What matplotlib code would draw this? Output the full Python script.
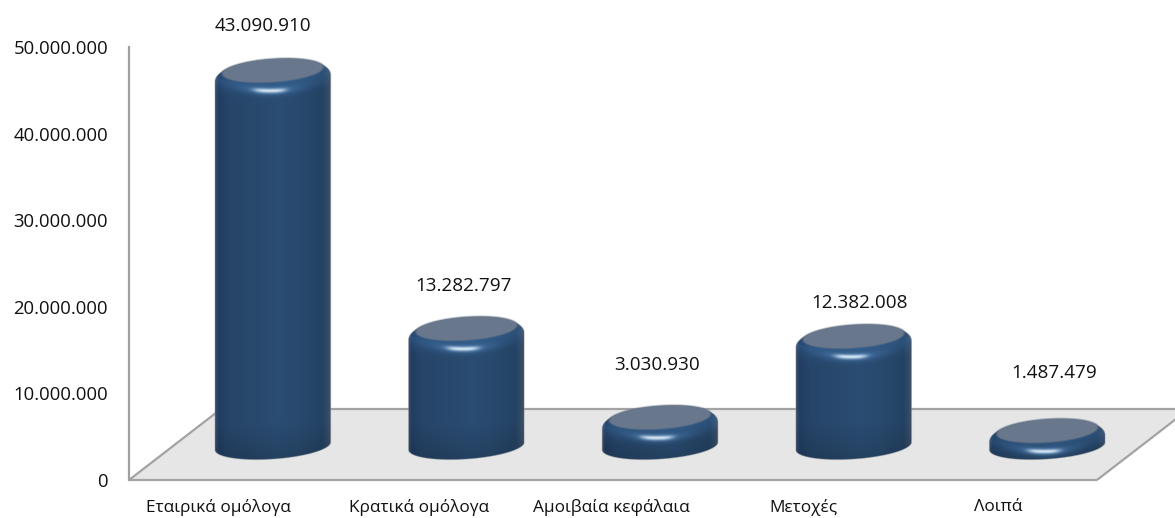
import numpy as np
import matplotlib
matplotlib.use("Agg")
import matplotlib.pyplot as plt
from matplotlib.patches import Polygon, PathPatch
from matplotlib.path import Path
from matplotlib.transforms import ScaledTranslation

categories = ["Εταιρικά ομόλογα", "Κρατικά ομόλογα", "Αμοιβαία κεφάλαια", "Μετοχές", "Λοιπά"]
values = [43090910, 13282797, 3030930, 12382008, 1487479]
value_labels = ["43.090.910", "13.282.797", "3.030.930", "12.382.008", "1.487.479"]
y_ticks = [0, 10000000, 20000000, 30000000, 40000000, 50000000]
y_tick_labels = ["0", "10.000.000", "20.000.000", "30.000.000", "40.000.000", "50.000.000"]

# layout / style
W, H = 1175, 518
AX_L, AX_R, AX_T, AX_B = 129, 1097, 47, 480
label_gap_px = [35, 33, 43, 24, 49]
label_dx_px = [-10, -3, -3, 6, 7]
cat_dx_px = [-7, 0, -2, -3, -2]
FONT = "Open Sans"
FS = 13.3

fig = plt.figure(figsize=(W / 100, H / 100), dpi=100, facecolor="white")
ax = fig.add_axes([AX_L / W, 1 - AX_B / H, (AX_R - AX_L) / W, (AX_B - AX_T) / H])
ax.set_xlim(-0.5, 4.5)
ax.set_ylim(0, 50000000)
ax.patch.set_alpha(0)

sx = (AX_R - AX_L) / 5            # px per category
sy = (AX_B - AX_T) / 50000000     # px per value unit

# axes
for s in ["top", "right", "bottom"]:
    ax.spines[s].set_visible(False)
ax.spines["left"].set_color("#a0a0a0")
ax.spines["left"].set_linewidth(1.6)
ax.set_yticks(y_ticks, y_tick_labels, fontfamily=FONT, fontsize=FS, color="#111111")
ax.set_xticks(range(len(categories)), categories, fontfamily=FONT, fontsize=12.4, color="#111111")
ax.tick_params(axis="y", length=0, pad=15)
ax.tick_params(axis="x", length=0, pad=14)
for lab, d in zip(ax.get_xticklabels(), cat_dx_px):
    lab.set_transform(lab.get_transform() + ScaledTranslation(d / 100, 0, fig.dpi_scale_trans))

# floor
back_y = 71 / sy
back_dx = 92 / sx
floor = [(-0.5, 0), (4.5, 0), (4.5 + back_dx, back_y), (-0.5 + back_dx, back_y)]
ax.add_patch(Polygon(floor, closed=True, facecolor="#e6e6e6", edgecolor="none", clip_on=False, zorder=1))
edge = dict(color="#a3a3a3", lw=1.6, clip_on=False, zorder=1.5, solid_capstyle="butt")
ax.plot([-0.5, 4.5], [0, 0], **edge)
ax.plot([-0.5 + back_dx, 4.5 + back_dx], [back_y, back_y], **edge)
ax.plot([-0.5, -0.5 + back_dx], [0, back_y], **edge)
ax.plot([4.5, 4.5 + back_dx], [0, back_y], **edge)


def ell(cx, cy, a, b, t0=0.0, t1=2 * np.pi, tilt=4.0, n=120, power=2.0):
    """Tilted (super)ellipse in px offsets around a data point, returned in data coords."""
    t = np.linspace(t0, t1, n)
    c, s = np.cos(t), np.sin(t)
    x = a * np.sign(c) * np.abs(c) ** (2 / power)
    y = b * np.sign(s) * np.abs(s) ** (2 / power)
    r = np.deg2rad(tilt)
    return np.column_stack([cx + (x * np.cos(r) - y * np.sin(r)) / sx,
                            cy + (x * np.sin(r) + y * np.cos(r)) / sy])


BAR_SHIFT = 0.243
BASE = 34 / sy
TOP_SHIFT = 1 / sy
HALF_W = 58
B_OUT = 19.5
OUT_DROP = 7.0
B_IN = 11.3
IMG_TOP = 17.0

stops_x = [0, .03, .12, .38, .55, .72, .93, 1]
stops_c = np.array([[.24, .31, .41], [.13, .24, .38], [.15, .27, .41], [.16, .29, .43],
                    [.165, .30, .45], [.16, .29, .43], [.14, .26, .39], [.24, .31, .41]])
hi_core = np.array([.90, .96, 1.0])
hi_wide = np.array([.30, .50, .72])

for i, v in enumerate(values):
    cx = i + BAR_SHIFT
    y0 = BASE
    y1 = BASE + TOP_SHIFT + v
    low = ell(cx, y0, HALF_W, 13, np.pi, 2 * np.pi)
    up = ell(cx, y1 - OUT_DROP / sy, HALF_W, B_OUT, 0, np.pi, power=2.2)
    poly = np.vstack([low, up])
    path = Path(np.vstack([poly, poly[0]]), closed=True)

    # body gradient, with a lit band that follows the curve of the top face
    nx = 232
    total = (y1 - y0) * sy + IMG_TOP + 16
    ny = int(total * 2)
    gx = np.linspace(0, 1, nx)
    rgb = np.stack([np.interp(gx, stops_x, stops_c[:, k]) for k in range(3)], axis=1)
    img = np.repeat(rgb[None, :, :], ny, axis=0)
    rows = np.linspace(0, total, ny)[:, None]
    xs = np.linspace(-HALF_W, HALF_W, nx)[None, :]
    u = xs / HALF_W
    curve = IMG_TOP + 1 + 10 * np.sqrt(np.clip(1 - u ** 2, 0, 1)) - 4 * u
    glow = np.clip(1 - np.abs(rows - curve) / 18, 0, 1)[:, :, None] ** 1.4
    img = img + glow * np.array([.03, .06, .09])
    dark = np.clip((rows - total + 40) / 40, 0, 1)[:, :, None]
    img = np.clip(img * (1 - 0.16 * dark), 0, 1)
    # soft specular highlight
    dx = xs + 3
    r0 = IMG_TOP + 19.5 - (dx / 22) ** 2 * 1.8
    wide = np.exp(-(dx / 30) ** 2 - ((rows - r0) / 4.2) ** 2)[:, :, None] * .7
    img = img * (1 - wide) + hi_wide * wide
    core = np.exp(-(dx / 16) ** 4 - ((rows - r0) / 2.1) ** 2)[:, :, None] * .9
    img = img * (1 - core) + hi_core * core

    ext = [cx - HALF_W / sx, cx + HALF_W / sx, y0 - 16 / sy, y1 + IMG_TOP / sy]
    im = ax.imshow(img, extent=ext, aspect="auto", origin="upper", zorder=3,
                   interpolation="bilinear")
    patch = PathPatch(path, transform=ax.transData, facecolor="none", edgecolor="none")
    ax.add_patch(patch)
    im.set_clip_box(fig.bbox)
    im.set_clip_path(patch)
    ax.add_patch(PathPatch(path, facecolor="none", edgecolor="#8a8f96", lw=0.8, alpha=0.4,
                           zorder=3.2, clip_on=False))

    # top face, with a soft rim
    top_c = y1 + 1.5 / sy
    for grow, al in [(2.4, .22), (1.6, .3), (0.8, .45), (0, 1.0)]:
        ax.add_patch(Polygon(ell(cx, top_c, HALF_W - 8 + grow, B_IN + grow * .6), closed=True,
                             facecolor="#68778b", edgecolor="none", alpha=al, zorder=4, clip_on=False))

    # value label
    ax.annotate(value_labels[i], xy=(cx, y1 + 10.6 / sy),
                xytext=(label_dx_px[i] * .72, label_gap_px[i] * .72), textcoords="offset points",
                ha="center", va="center", fontfamily=FONT, fontsize=FS + 0.3, color="#111111",
                annotation_clip=False, zorder=6)

ax.set_xlim(-0.5, 4.5)
ax.set_ylim(0, 50000000)
fig.savefig("out.png", dpi=100, facecolor="white")
